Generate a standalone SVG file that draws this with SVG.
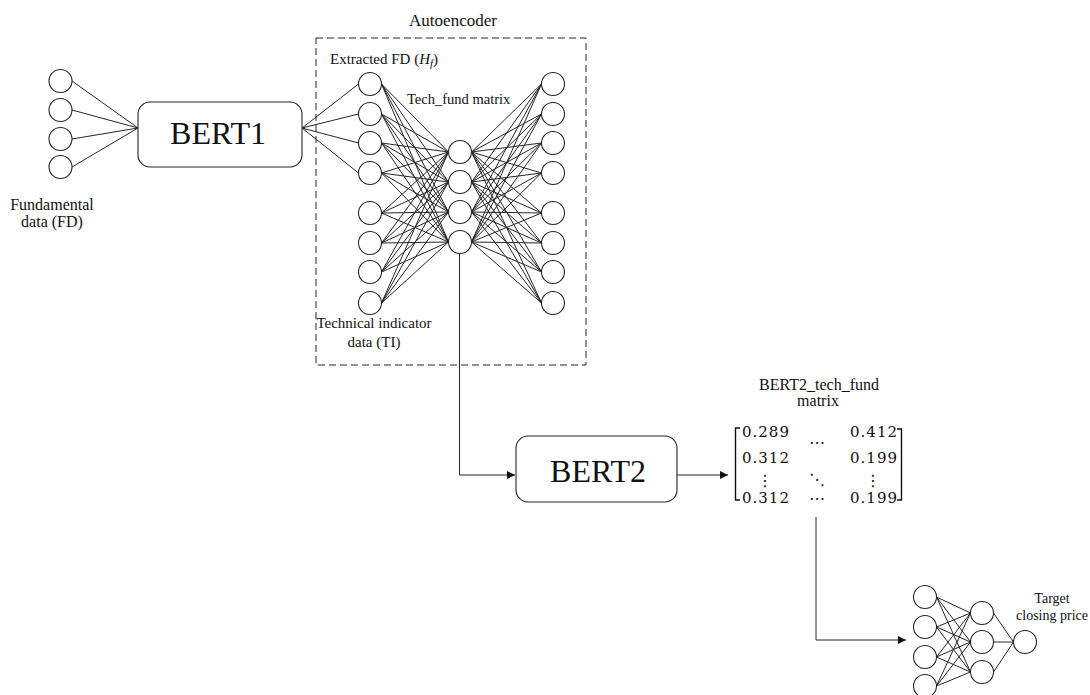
<svg xmlns="http://www.w3.org/2000/svg" width="1090" height="695" viewBox="0 0 1090 695">
<defs>
<style>
.n{fill:#fff;stroke:#262626;stroke-width:1.1}
.ln{stroke:#262626;stroke-width:1;fill:none}
.box{fill:#fff;stroke:#262626;stroke-width:1.1}
.t{font-family:"Liberation Serif","Times New Roman",serif;fill:#111}
.m{font-family:"DejaVu Serif",serif;font-size:15px;letter-spacing:1px;fill:#111}
.d{font-family:"DejaVu Sans",sans-serif;font-size:16px;fill:#111}
</style>
<marker id="ah" viewBox="0 0 10 10" refX="10" refY="5" markerWidth="9" markerHeight="8" markerUnits="userSpaceOnUse" orient="auto">
<path d="M0,0 L10,5 L0,10 z" fill="#111"/>
</marker>
</defs>
<rect width="1090" height="695" fill="#fff"/>

<g id="connectors" class="ln">
<path d="M72,81 L138,128 M72,110 L138,128 M72,139 L138,128 M72,167 L138,128"/>
<path d="M302,128 L358.5,84 M302,128 L358.5,114 M302,128 L358.5,143 M302,128 L358.5,173"/>
<path d="M381.5,84 L448.5,152 M381.5,84 L448.5,182 M381.5,84 L448.5,212 M381.5,84 L448.5,242
M381.5,114 L448.5,152 M381.5,114 L448.5,182 M381.5,114 L448.5,212 M381.5,114 L448.5,242
M381.5,143 L448.5,152 M381.5,143 L448.5,182 M381.5,143 L448.5,212 M381.5,143 L448.5,242
M381.5,173 L448.5,152 M381.5,173 L448.5,182 M381.5,173 L448.5,212 M381.5,173 L448.5,242
M381.5,213 L448.5,152 M381.5,213 L448.5,182 M381.5,213 L448.5,212 M381.5,213 L448.5,242
M381.5,243 L448.5,152 M381.5,243 L448.5,182 M381.5,243 L448.5,212 M381.5,243 L448.5,242
M381.5,272 L448.5,152 M381.5,272 L448.5,182 M381.5,272 L448.5,212 M381.5,272 L448.5,242
M381.5,303 L448.5,152 M381.5,303 L448.5,182 M381.5,303 L448.5,212 M381.5,303 L448.5,242"/>
<path d="M471.5,152 L541.5,84 M471.5,152 L541.5,114 M471.5,152 L541.5,143 M471.5,152 L541.5,173 M471.5,152 L541.5,213 M471.5,152 L541.5,243 M471.5,152 L541.5,272 M471.5,152 L541.5,303
M471.5,182 L541.5,84 M471.5,182 L541.5,114 M471.5,182 L541.5,143 M471.5,182 L541.5,173 M471.5,182 L541.5,213 M471.5,182 L541.5,243 M471.5,182 L541.5,272 M471.5,182 L541.5,303
M471.5,212 L541.5,84 M471.5,212 L541.5,114 M471.5,212 L541.5,143 M471.5,212 L541.5,173 M471.5,212 L541.5,213 M471.5,212 L541.5,243 M471.5,212 L541.5,272 M471.5,212 L541.5,303
M471.5,242 L541.5,84 M471.5,242 L541.5,114 M471.5,242 L541.5,143 M471.5,242 L541.5,173 M471.5,242 L541.5,213 M471.5,242 L541.5,243 M471.5,242 L541.5,272 M471.5,242 L541.5,303"/>
<path d="M459.5,253.5 L459.5,475 L515,475" marker-end="url(#ah)"/>
<path d="M677,475 L728,475" marker-end="url(#ah)"/>
<path d="M816,517 L816,640 L906,640" marker-end="url(#ah)"/>
<path d="M936.5,597 L970.5,613 M936.5,597 L970.5,642 M936.5,597 L970.5,672
M936.5,627 L970.5,613 M936.5,627 L970.5,642 M936.5,627 L970.5,672
M936.5,657 L970.5,613 M936.5,657 L970.5,642 M936.5,657 L970.5,672
M936.5,686 L970.5,613 M936.5,686 L970.5,642 M936.5,686 L970.5,672
M993.5,613 L1013.5,642 M993.5,642 L1013.5,642 M993.5,672 L1013.5,642"/>
</g>

<g id="fd-inputs">
<circle class="n" cx="60.5" cy="81" r="11.5"/>
<circle class="n" cx="60.5" cy="110" r="11.5"/>
<circle class="n" cx="60.5" cy="139" r="11.5"/>
<circle class="n" cx="60.5" cy="167" r="11.5"/>
<text class="t" font-size="16" text-anchor="middle" x="52" y="210">Fundamental</text>
<text class="t" font-size="16" text-anchor="middle" x="52" y="227">data (FD)</text>
</g>

<g id="bert1">
<rect class="box" x="138" y="102" width="164" height="65" rx="12"/>
<text class="t" font-size="32" text-anchor="middle" x="218" y="144">BERT1</text>
</g>

<g id="autoencoder">
<rect x="316" y="38" width="270" height="327" fill="none" stroke="#262626" stroke-width="1" stroke-dasharray="7,4"/>
<text class="t" font-size="17" text-anchor="middle" x="453" y="26">Autoencoder</text>
<text class="t" font-size="15" x="330" y="64">Extracted FD (<tspan font-style="italic">H</tspan><tspan font-style="italic" font-size="11" dy="3">f</tspan><tspan dy="-3">)</tspan></text>
<text class="t" font-size="14.5" x="407" y="104">Tech_fund matrix</text>
<text class="t" font-size="15" text-anchor="middle" x="374" y="328">Technical indicator</text>
<text class="t" font-size="15" text-anchor="middle" x="374" y="347">data (TI)</text>
</g>

<g id="ae-left">
<circle class="n" cx="370" cy="84" r="11.5"/>
<circle class="n" cx="370" cy="114" r="11.5"/>
<circle class="n" cx="370" cy="143" r="11.5"/>
<circle class="n" cx="370" cy="173" r="11.5"/>
<circle class="n" cx="370" cy="213" r="11.5"/>
<circle class="n" cx="370" cy="243" r="11.5"/>
<circle class="n" cx="370" cy="272" r="11.5"/>
<circle class="n" cx="370" cy="303" r="11.5"/>
</g>

<g id="ae-middle">
<circle class="n" cx="460" cy="152" r="11.5"/>
<circle class="n" cx="460" cy="182" r="11.5"/>
<circle class="n" cx="460" cy="212" r="11.5"/>
<circle class="n" cx="460" cy="242" r="11.5"/>
</g>

<g id="ae-right">
<circle class="n" cx="553" cy="84" r="11.5"/>
<circle class="n" cx="553" cy="114" r="11.5"/>
<circle class="n" cx="553" cy="143" r="11.5"/>
<circle class="n" cx="553" cy="173" r="11.5"/>
<circle class="n" cx="553" cy="213" r="11.5"/>
<circle class="n" cx="553" cy="243" r="11.5"/>
<circle class="n" cx="553" cy="272" r="11.5"/>
<circle class="n" cx="553" cy="303" r="11.5"/>
</g>

<g id="bert2">
<rect class="box" x="516" y="436" width="161" height="66" rx="12"/>
<text class="t" font-size="32" text-anchor="middle" x="598" y="482">BERT2</text>
</g>

<g id="matrix">
<text class="t" font-size="16" text-anchor="middle" x="819" y="390">BERT2_tech_fund</text>
<text class="t" font-size="16" text-anchor="middle" x="818" y="406">matrix</text>
<path d="M740,428 L735.5,428 L735.5,500 L740,500 M897,429 L901.5,429 L901.5,500 L897,500" fill="none" stroke="#111" stroke-width="1.4"/>
<text class="m" x="742" y="437">0.289</text>
<text class="m" x="742" y="463">0.312</text>
<text class="m" x="742" y="503">0.312</text>
<text class="m" text-anchor="end" x="898" y="437">0.412</text>
<text class="m" text-anchor="end" x="898" y="463">0.199</text>
<text class="m" text-anchor="end" x="898" y="503">0.199</text>
<text class="d" text-anchor="middle" x="817" y="448">⋯</text>
<text class="d" text-anchor="middle" x="817" y="504">⋯</text>
<text class="d" text-anchor="middle" x="817" y="485" font-size="14">⋱</text>
<text class="d" text-anchor="middle" x="765" y="486">⋮</text>
<text class="d" text-anchor="middle" x="873" y="486">⋮</text>
</g>

<g id="final-input">
<circle class="n" cx="925" cy="597" r="11.5"/>
<circle class="n" cx="925" cy="627" r="11.5"/>
<circle class="n" cx="925" cy="657" r="11.5"/>
<circle class="n" cx="925" cy="686" r="11.5"/>
</g>
<g id="final-hidden">
<circle class="n" cx="982" cy="613" r="11.5"/>
<circle class="n" cx="982" cy="642" r="11.5"/>
<circle class="n" cx="982" cy="672" r="11.5"/>
</g>
<g id="final-output">
<circle class="n" cx="1025" cy="642" r="11.5"/>
<text class="t" font-size="14" text-anchor="middle" x="1052" y="603">Target</text>
<text class="t" font-size="14" text-anchor="middle" x="1052" y="620">closing price</text>
</g>
</svg>
